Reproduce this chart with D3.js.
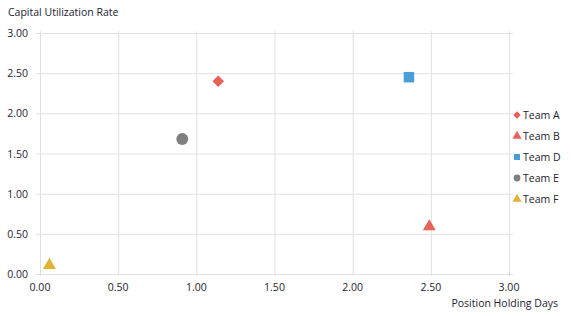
<!DOCTYPE html>
<html>
<head>
<meta charset="utf-8">
<script src="https://cdn.jsdelivr.net/npm/d3@7"></script>
<style>
  body { margin: 0; background: #fff; }
  svg text { font-family: "Open Sans", "Liberation Sans", sans-serif; fill: #1e2230; font-size: 10.5px; }
  .grid line { stroke: #e0e0e0; }
  .grid path { display: none; }
</style>
</head>
<body>
<script>
// data
var teams = ["Team A", "Team B", "Team D", "Team E", "Team F"];
var holdingDays = [1.14, 2.49, 2.36, 0.91, 0.06];
var utilization = [2.40, 0.59, 2.45, 1.68, 0.11];
var colors = ["#e8605a", "#e8605a", "#4a9dd6", "#7f7f7f", "#e3b136"];
var shapes = [d3.symbolDiamond2, d3.symbolTriangle, d3.symbolSquare, d3.symbolCircle, d3.symbolTriangle];
var tickVals = [0, 0.5, 1, 1.5, 2, 2.5, 3];

var W = 571, H = 316;
var margin = {top: 33, right: 62, bottom: 42, left: 40},
    width = W - margin.left - margin.right,
    height = H - margin.top - margin.bottom;

var svg = d3.select("body").append("svg")
    .attr("width", W)
    .attr("height", H);
var g = svg.append("g")
    .attr("transform", "translate(" + margin.left + "," + margin.top + ")");

var x = d3.scaleLinear().domain([0, 3]).range([0, width]);
var y = d3.scaleLinear().domain([0, 3]).range([height, 0]);

// gridlines
g.append("g")
    .attr("class", "grid")
    .attr("transform", "translate(0," + height + ")")
    .call(d3.axisBottom(x).tickValues(tickVals).tickSize(-height - 2).tickFormat(""))
    .call(function(s) { s.selectAll("line").attr("y1", 2); });
g.append("g")
    .attr("class", "grid")
    .call(d3.axisLeft(y).tickValues(tickVals).tickSize(-width - 4).tickFormat(""))
    .call(function(s) { s.selectAll("line").attr("x1", -4); });

// tick labels
var fmt = d3.format(".2f");
g.selectAll(".xl").data(tickVals).enter().append("text")
    .attr("x", function(d) { return x(d); })
    .attr("y", height + 17)
    .attr("text-anchor", "middle")
    .text(fmt);
g.selectAll(".yl").data(tickVals).enter().append("text")
    .attr("x", -12)
    .attr("y", function(d) { return y(d) + 4; })
    .attr("text-anchor", "end")
    .text(fmt);

// axis titles
svg.append("text")
    .attr("x", 8).attr("y", 16)
    .text("Capital Utilization Rate");
svg.append("text")
    .attr("x", 558).attr("y", 307)
    .attr("text-anchor", "end")
    .text("Position Holding Days");

// points
var idx = d3.range(teams.length);
var sizes = [85, 72, 110, 110, 72];
g.selectAll(".pt").data(idx).enter().append("path")
    .attr("transform", function(i) { return "translate(" + x(holdingDays[i]) + "," + y(utilization[i]) + ")"; })
    .attr("d", function(i) { return d3.symbol().type(shapes[i]).size(sizes[i])(); })
    .style("fill", function(i) { return colors[i]; });

// legend
var leg = svg.append("g").attr("transform", "translate(517,115)");
var li = leg.selectAll("g").data(idx).enter().append("g")
    .attr("transform", function(i) { return "translate(0," + (i * 21) + ")"; });
li.append("path")
    .attr("d", function(i) { return d3.symbol().type(shapes[i]).size(36)(); })
    .style("fill", function(i) { return colors[i]; });
li.append("text")
    .attr("x", 6).attr("y", 4)
    .text(function(i) { return teams[i]; });
</script>
</body>
</html>
